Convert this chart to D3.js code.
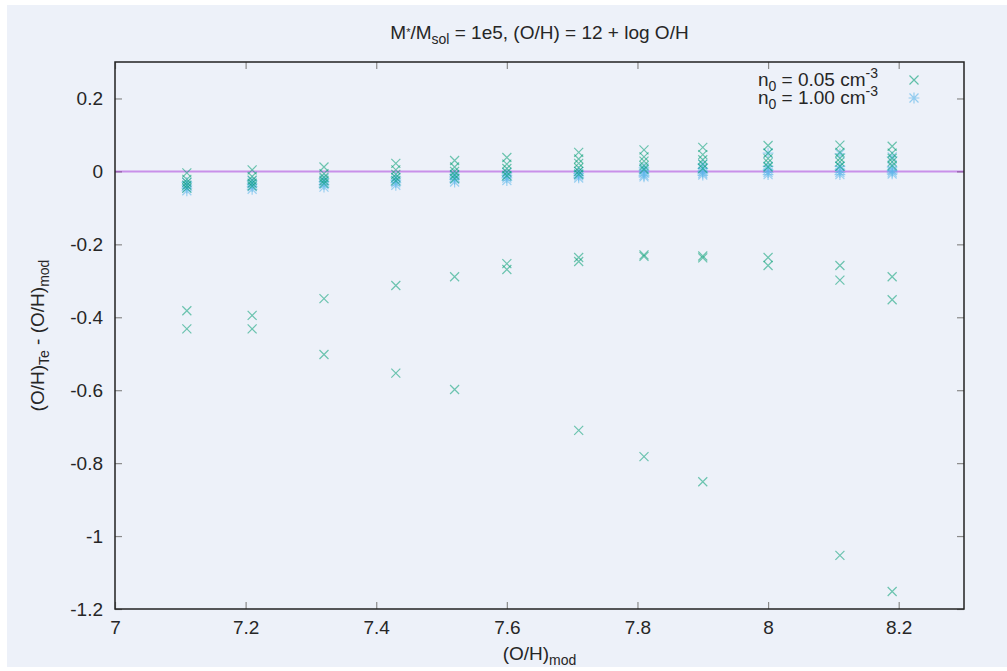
<!DOCTYPE html>
<html>
<head>
<meta charset="utf-8">
<script src="https://cdn.jsdelivr.net/npm/d3@7"></script>
<style>
  html, body { margin: 0; padding: 0; background: #ffffff; }
  svg { display: block; font-family: "Liberation Sans", Arial, sans-serif; }
</style>
</head>
<body>
<svg id="chart" width="1007" height="671"></svg>
<script>
// ---- data ----
const ohMod = [7.11, 7.21, 7.32, 7.43, 7.52, 7.60, 7.71, 7.81, 7.90, 8.00, 8.11, 8.19];

// n0 = 0.05 cm^-3 : (O/H)Te - (O/H)mod values at each (O/H)mod
const lowDensity = [
  [-0.004, -0.022, -0.030, -0.038, -0.046, -0.382, -0.432],
  [0.004, -0.014, -0.024, -0.032, -0.040, -0.395, -0.432],
  [0.012, -0.006, -0.016, -0.025, -0.033, -0.349, -0.502],
  [0.022, 0.004, -0.008, -0.017, -0.026, -0.313, -0.553],
  [0.030, 0.012, 0.000, -0.010, -0.020, -0.289, -0.598],
  [0.038, 0.020, 0.008, -0.002, -0.012, -0.253, -0.269],
  [0.052, 0.034, 0.022, 0.010, 0.000, -0.008, -0.236, -0.247, -0.710],
  [0.059, 0.040, 0.028, 0.016, 0.006, -0.229, -0.233, -0.782],
  [0.066, 0.046, 0.032, 0.020, 0.008, -0.232, -0.237, -0.851],
  [0.071, 0.050, 0.035, 0.024, 0.012, -0.236, -0.258],
  [0.072, 0.052, 0.036, 0.026, 0.014, -0.258, -0.298, -1.053],
  [0.069, 0.050, 0.036, 0.026, 0.016, -0.289, -0.352, -1.152]
];

// n0 = 1.00 cm^-3
const highDensity = [
  [-0.030, -0.038, -0.046, -0.053],
  [-0.026, -0.034, -0.042, -0.049],
  [-0.020, -0.028, -0.036, -0.043],
  [-0.016, -0.024, -0.031, -0.038],
  [-0.008, -0.015, -0.022, -0.029],
  [-0.004, -0.011, -0.018, -0.025],
  [0.000, -0.006, -0.012, -0.018],
  [0.010, 0.003, -0.004, -0.011, -0.015],
  [0.020, 0.008, 0.000, -0.005, -0.010],
  [0.050, 0.014, 0.004, -0.003, -0.009],
  [0.048, 0.014, 0.004, -0.003, -0.009],
  [0.040, 0.012, 0.003, -0.002, -0.007]
];

const xTicks = [7, 7.2, 7.4, 7.6, 7.8, 8, 8.2];
const yTicks = [0.2, 0, -0.2, -0.4, -0.6, -0.8, -1, -1.2];

// ---- layout ----
const svg = d3.select("#chart");
const W = 1007, H = 671;
const m = { left: 115, right: 964, top: 62, bottom: 609 };
const bg = "#edf1f9";
const textColor = "#262626";
const fs = 19, fsSub = 14;

svg.append("rect").attr("x", 7).attr("y", 5).attr("width", W - 7).attr("height", 662).attr("fill", bg);

const x = d3.scaleLinear().domain([7, 8.3]).range([m.left, m.right]);
const y = d3.scaleLinear().domain([-1.2, 0.3]).range([m.bottom, m.top]);

const tickLen = 7;
const tickColor = "#8a8a8a";

// ticks (mirrored on all sides, pointing inward)
const axB = d3.axisBottom(x).tickValues(xTicks).tickSize(-tickLen).tickPadding(12).tickFormat(d3.format("~g"));
const axT = d3.axisTop(x).tickValues(xTicks).tickSize(-tickLen).tickFormat("");
const axL = d3.axisLeft(y).tickValues(yTicks).tickSize(-tickLen).tickPadding(12).tickFormat(d => d === 0 ? "0" : d3.format("~g")(d).replace("−", "-"));
const axR = d3.axisRight(y).tickValues(yTicks).tickSize(-tickLen).tickFormat("");

function style(g) {
  g.select(".domain").remove();
  g.selectAll(".tick line").attr("stroke", tickColor).attr("stroke-width", 1.2);
  g.selectAll(".tick text").attr("fill", textColor).attr("font-size", fs)
    .attr("font-family", "'Liberation Sans', Arial, sans-serif");
}
svg.append("g").attr("transform", `translate(0,${m.bottom})`).call(axB).call(style);
svg.append("g").attr("transform", `translate(0,${m.top})`).call(axT).call(style);
svg.append("g").attr("transform", `translate(${m.left},0)`).call(axL).call(style);
svg.append("g").attr("transform", `translate(${m.right},0)`).call(axR).call(style);

// zero line
svg.append("line")
  .attr("x1", x(7)).attr("x2", x(8.3)).attr("y1", y(0)).attr("y2", y(0))
  .attr("stroke", "#9400d3").attr("stroke-opacity", 0.4).attr("stroke-width", 2);

// markers
const green = "#009e73", blue = "#56b4e9";
const s = 4.5;
const crossPath = `M${-s},${-s}L${s},${s}M${-s},${s}L${s},${-s}`;
const starPath = `M${-s},${-s}L${s},${s}M${-s},${s}L${s},${-s}M0,${-s * 1.2}L0,${s * 1.2}M${-s * 1.2},0L${s * 1.2},0`;

const lowPts = [], highPts = [];
ohMod.forEach((xv, i) => {
  lowDensity[i].forEach(v => lowPts.push([xv, v]));
  highDensity[i].forEach(v => highPts.push([xv, v]));
});

const plot = svg.append("g");
plot.selectAll("path.hi").data(highPts).enter().append("path")
  .attr("class", "hi")
  .attr("d", starPath)
  .attr("transform", d => `translate(${x(d[0])},${y(d[1])})`)
  .attr("stroke", blue).attr("stroke-opacity", 0.55).attr("stroke-width", 1.2).attr("fill", "none");
plot.selectAll("path.lo").data(lowPts).enter().append("path")
  .attr("class", "lo")
  .attr("d", crossPath)
  .attr("transform", d => `translate(${x(d[0])},${y(d[1])})`)
  .attr("stroke", green).attr("stroke-opacity", 0.55).attr("stroke-width", 1.2).attr("fill", "none");

// frame
svg.append("rect").attr("x", m.left).attr("y", m.top)
  .attr("width", m.right - m.left).attr("height", m.bottom - m.top)
  .attr("fill", "none").attr("stroke", "#222").attr("stroke-width", 1.5);

// title
const title = svg.append("text").attr("x", (m.left + m.right) / 2).attr("y", 39)
  .attr("text-anchor", "middle").attr("font-size", fs).attr("fill", textColor);
title.append("tspan").text("M");
title.append("tspan").attr("font-size", 11).attr("dy", -3).text("*");
title.append("tspan").attr("dy", 3).text("/M");
title.append("tspan").attr("font-size", fsSub).attr("dy", 5).text("sol");
title.append("tspan").attr("dy", -5).text(" = 1e5, (O/H) = 12 + log O/H");

// axis labels
const xl = svg.append("text").attr("x", (m.left + m.right) / 2).attr("y", 660)
  .attr("text-anchor", "middle").attr("font-size", fs).attr("fill", textColor);
xl.append("tspan").text("(O/H)");
xl.append("tspan").attr("font-size", fsSub).attr("dy", 5).text("mod");

const yl = svg.append("text").attr("transform", `translate(44,${(m.top + m.bottom) / 2}) rotate(-90)`)
  .attr("text-anchor", "middle").attr("font-size", fs).attr("fill", textColor);
yl.append("tspan").text("(O/H)");
yl.append("tspan").attr("font-size", fsSub).attr("dy", 5).text("Te");
yl.append("tspan").attr("dy", -5).text(" - (O/H)");
yl.append("tspan").attr("font-size", fsSub).attr("dy", 5).text("mod");

// legend
const legend = [
  { label: "0.05", color: green, path: crossPath },
  { label: "1.00", color: blue, path: starPath }
];
legend.forEach((d, i) => {
  const yy = 86 + i * 18;
  const t = svg.append("text").attr("x", 878).attr("y", yy).attr("text-anchor", "end")
    .attr("font-size", fs).attr("fill", textColor);
  t.append("tspan").text("n");
  t.append("tspan").attr("font-size", fsSub).attr("dy", 5).text("0");
  t.append("tspan").attr("dy", -5).text(" = " + d.label + " cm");
  t.append("tspan").attr("font-size", fsSub).attr("dy", -8).text("-3");
  svg.append("path").attr("d", d.path).attr("transform", `translate(914,${yy - 6})`)
    .attr("stroke", d.color).attr("stroke-opacity", 0.6).attr("stroke-width", 1.2).attr("fill", "none");
});
</script>
</body>
</html>
